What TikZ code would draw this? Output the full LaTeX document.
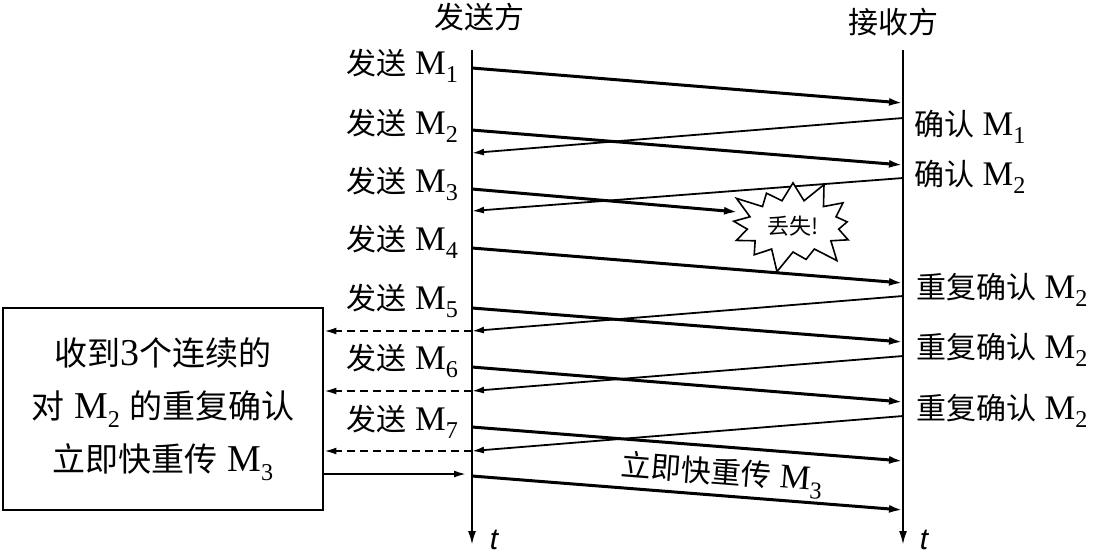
\documentclass[tikz,border=0pt]{standalone}
\usepackage{fontspec}
\setmainfont{Liberation Serif}[Scale=1.15]
\newfontfamily\cjk{Noto Sans CJK SC}
\newfontfamily\tfont{Liberation Sans}
\usetikzlibrary{arrows.meta,shapes.symbols}
\newcommand{\zh}[1]{{\cjk #1}}
\newcommand{\Msub}[1]{M\raisebox{-0.24em}{\fontsize{10.5}{11}\selectfont #1}}
\begin{document}
\begin{tikzpicture}[x=0.5pt, y=-0.5pt, font=\fontsize{15}{18}\selectfont,
  axis/.style={line width=1.1pt, -{Latex[length=7pt,width=4pt]}},
  data/.style={line width=1.5pt, -{Latex[length=7pt,width=4pt]}},
  ack/.style={line width=0.9pt, -{Latex[length=6pt,width=3.5pt]}},
  fwd/.style={line width=0.9pt, dash pattern=on 4pt off 2.5pt, -{Latex[length=6pt,width=3.5pt]}},
  tlbl/.style={font=\fontsize{15}{18}\tfont\itshape}]
\useasboundingbox (0,0) rectangle (1097,554);
% time axes
\coordinate (sTop) at (472,50);
\coordinate (sBot) at (472,545);
\coordinate (rTop) at (903,50);
\coordinate (rBot) at (903,545);
\draw[axis] (sTop) -- (sBot);
\draw[axis] (rTop) -- (rBot);
\node[tlbl] (st) at (494,540) {t};
\node[tlbl] (rt) at (924,540) {t};
\node (sname) at (479,17) {\zh{发送方}};
\node (rname) at (893,22) {\zh{接收方}};
% segments
\coordinate (s1) at (472,68);
\coordinate (r1) at (903,103);
\coordinate (s2) at (472,130);
\coordinate (r2) at (903,165);
\coordinate (s3) at (472,189);
\coordinate (x3) at (738,212);
\coordinate (s4) at (472,248);
\coordinate (r4) at (903,283);
\coordinate (s5) at (472,308);
\coordinate (r5) at (903,342);
\coordinate (s6) at (472,367);
\coordinate (r6) at (903,402);
\coordinate (s7) at (472,427);
\coordinate (r7) at (903,461);
\coordinate (s8) at (472,476);
\coordinate (r8) at (903,510);
\draw[data] (s1) -- (r1);
\draw[data] (s2) -- (r2);
\draw[data] (s3) -- (x3);
\draw[data] (s4) -- (r4);
\draw[data] (s5) -- (r5);
\draw[data] (s6) -- (r6);
\draw[data] (s7) -- (r7);
\draw[data] (s8) -- (r8);
% acks
\coordinate (a1) at (903,118);
\coordinate (b1) at (472,153);
\coordinate (a2) at (903,178);
\coordinate (b2) at (472,211);
\coordinate (a3) at (903,296);
\coordinate (b3) at (472,331);
\coordinate (a4) at (903,356);
\coordinate (b4) at (472,391);
\coordinate (a5) at (903,416);
\coordinate (b5) at (472,451);
\draw[ack] (a1) -- (b1);
\draw[ack] (a2) -- (b2);
\draw[ack] (a3) -- (b3);
\draw[ack] (a4) -- (b4);
\draw[ack] (a5) -- (b5);
% lost segment
\node[starburst, draw, fill=white, line width=0.8pt, minimum width=70pt, minimum height=50pt,
  starburst points=13, starburst point height=12pt, inner sep=0pt,
  font=\fontsize{11}{13}\selectfont] (lost) at (793,226) {\zh{丢失!}};
% box
\node[draw, line width=1.4pt, minimum width=160pt, minimum height=101pt, align=center,
  font=\fontsize{16.5}{26.5}\selectfont] (box) at (163,409)
  {\zh{收到}3\zh{个连续的}\\\zh{对} \Msub{2} \zh{的重复确认}\\\zh{立即快重传} \Msub{3}};
\draw[fwd] (b3) -- (b3 -| box.east);
\draw[fwd] (b4) -- (b4 -| box.east);
\draw[fwd] (b5) -- (b5 -| box.east);
\coordinate (go) at (466,474);
\draw[line width=0.9pt, -{Latex[length=6pt,width=3.5pt]}] (go -| box.east) -- (go);
% labels
\node[anchor=east] (l1) at (466,66) {\zh{发送} \Msub{1}};
\node[anchor=east] (l2) at (466,126) {\zh{发送} \Msub{2}};
\node[anchor=east] (l3) at (466,184) {\zh{发送} \Msub{3}};
\node[anchor=east] (l4) at (466,242) {\zh{发送} \Msub{4}};
\node[anchor=east] (l5) at (466,301) {\zh{发送} \Msub{5}};
\node[anchor=east] (l6) at (466,361) {\zh{发送} \Msub{6}};
\node[anchor=east] (l7) at (466,422) {\zh{发送} \Msub{7}};
\node[anchor=west] (k1) at (906,127) {\zh{确认} \Msub{1}};
\node[anchor=west] (k2) at (906,177) {\zh{确认} \Msub{2}};
\node[anchor=west] (k3) at (908,290) {\zh{重复确认} \Msub{2}};
\node[anchor=west] (k4) at (908,350) {\zh{重复确认} \Msub{2}};
\node[anchor=west] (k5) at (908,411) {\zh{重复确认} \Msub{2}};
\node[rotate=-4.5] (retx) at (722,475) {\zh{立即快重传} \Msub{3}};
\end{tikzpicture}
\end{document}
